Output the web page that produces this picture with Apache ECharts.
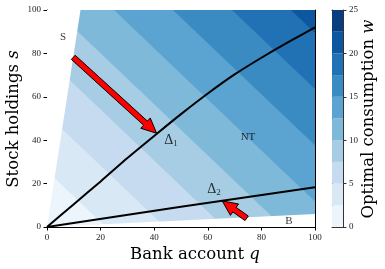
<!DOCTYPE html>
<html><head><meta charset="utf-8">
<script src="https://cdn.jsdelivr.net/npm/echarts@6/dist/echarts.min.js"></script>
<style>html,body{margin:0;padding:0;background:#fff}#c{width:385px;height:269px}</style>
</head><body><div id="c"></div>
<script>
// ---- data ----
const levels = [0, 2.5, 5, 7.5, 10, 12.5, 15, 17.5, 20, 22.5, 25];
const bandColors = ['#edf5fc','#d9e8f5','#c6dbef','#a6cde4','#7fb9da','#5ba3d0','#3b8bc3','#2171b5','#0d57a1','#083d7f'];
// contour lines (q, s) for w = 2.5 ... 20
const contour2_5  = [[-10,37.6],[10,14.1],[30.5,-10]];
const contour5    = [[-10,63.5],[22,25.9],[52.5,-10]];
const contour7_5  = [[-10,89.4],[33,38.8],[74.5,-10]];
const contour10   = [[-10,115.3],[44,51.8],[96.5,-10]];
const contour12_5 = [[16.5,110],[60,58.8],[110,0]];
const contour15   = [[38.5,110],[70,72.9],[110,25.9]];
const contour17_5 = [[60.5,110],[85,81.2],[110,51.8]];
const contour20   = [[82.5,110],[95,95.3],[110,77.6]];
const contours = [contour2_5, contour5, contour7_5, contour10, contour12_5, contour15, contour17_5, contour20];
// regions without data (white)
const sellEdge = [[0,0],[12.5,100]];
const buyEdge  = [[0,0],[100,6]];
// no-trade boundaries
const delta1 = [[0,0],[10,10.5],[20,21],[30,31.8],[41,43],[50,52],[60,61.5],[70,70.3],[80,78],[90,85.2],[100,92]];
const delta2 = [[0,0],[50,9.3],[100,18.3]];
// arrows: [qTail, sTail, qTip, sTip]
const arrows = [[9.8,78.2,40.9,43.2],[74.5,4,65.4,12]];
// region labels
const labelsData = [
  {q:6, s:87.6, t:'S'},
  {q:75, s:41.5, t:'NT'},
  {q:90.3, s:2.8, t:'B'},
  {q:46.3, s:40, t:'{d|Δ}{sub|1}'},
  {q:62.3, s:17.5, t:'{d|Δ}{sub|2}'}
];
const xTicks = [0,20,40,60,80,100];
const yTicks = [0,20,40,60,80,100];
const cbTicks = [0,5,10,15,20,25];

const FONT = 'DejaVu Serif';
const TFONT = 'Liberation Serif';
const chart = echarts.init(document.getElementById('c'), null, {renderer:'canvas'});

function farPolygon(c){ return c.concat([[200,-50],[200,200],[-50,200]]); }
const bandPolys = [[[-50,-50],[200,-50],[200,200],[-50,200]]].concat(contours.map(farPolygon));
const whitePolys = [
  [sellEdge[0], sellEdge[1], [sellEdge[1][0], 120], [-20,120], [-20,-20]],
  [buyEdge[0], buyEdge[1], [120, buyEdge[1][1]], [120,-20], [-20,-20]]
];

const axisLineStyle = {color:'#000', width:1};
const tickLabel = {fontSize:9, color:'#222', margin:6, fontFamily:TFONT};
const option = {
  animation:false,
  grid:[
    {left:47, top:10, width:268, height:217, outerBoundsMode:'none', containLabel:false},
    {left:332, top:10, width:11, height:217, outerBoundsMode:'none', containLabel:false}
  ],
  xAxis:[
    {gridIndex:0, type:'value', min:0, max:100, interval:20, position:'bottom',
     axisLine:{show:true, onZero:false, lineStyle:axisLineStyle},
     axisTick:{show:true, length:3.5, lineStyle:{color:'#000'}},
     axisLabel:tickLabel, splitLine:{show:false}},
    {gridIndex:0, type:'value', min:0, max:100, position:'top',
     axisLine:{show:true, onZero:false, lineStyle:axisLineStyle},
     axisTick:{show:false}, axisLabel:{show:false}, splitLine:{show:false}},
    {gridIndex:1, type:'value', min:0, max:1, position:'bottom',
     axisLine:{show:true, onZero:false, lineStyle:{color:'#333', width:1}},
     axisTick:{show:false}, axisLabel:{show:false}, splitLine:{show:false}},
    {gridIndex:1, type:'value', min:0, max:1, position:'top',
     axisLine:{show:true, onZero:false, lineStyle:{color:'#333', width:1}},
     axisTick:{show:false}, axisLabel:{show:false}, splitLine:{show:false}}
  ],
  yAxis:[
    {gridIndex:0, type:'value', min:0, max:100, interval:20, position:'left',
     axisLine:{show:true, onZero:false, lineStyle:axisLineStyle},
     axisTick:{show:true, length:3.5, lineStyle:{color:'#000'}},
     axisLabel:tickLabel, splitLine:{show:false}},
    {gridIndex:0, type:'value', min:0, max:100, position:'right',
     axisLine:{show:true, onZero:false, lineStyle:axisLineStyle},
     axisTick:{show:false}, axisLabel:{show:false}, splitLine:{show:false}},
    {gridIndex:1, type:'value', min:0, max:25, position:'left',
     axisLine:{show:true, onZero:false, lineStyle:{color:'#333', width:1}},
     axisTick:{show:false}, axisLabel:{show:false}, splitLine:{show:false}},
    {gridIndex:1, type:'value', min:0, max:25, interval:5, position:'right',
     axisLine:{show:true, onZero:false, lineStyle:{color:'#333', width:1}},
     axisTick:{show:true, length:3.5, lineStyle:{color:'#333'}},
     axisLabel:tickLabel, splitLine:{show:false}}
  ],
  series:[
    {type:'custom', xAxisIndex:0, yAxisIndex:0, clip:true, z:1,
     data: bandPolys.map((p,i)=>[i,0]),
     renderItem:function(params, api){
       const i = params.dataIndex;
       return {type:'polygon', shape:{points: bandPolys[i].map(p=>api.coord(p))},
               style:{fill: bandColors[i]}};
     }},
    {type:'custom', xAxisIndex:0, yAxisIndex:0, clip:true, z:2,
     data: whitePolys.map((p,i)=>[i,0]),
     renderItem:function(params, api){
       const i = params.dataIndex;
       return {type:'polygon', shape:{points: whitePolys[i].map(p=>api.coord(p))},
               style:{fill:'#ffffff'}};
     }},
    {type:'line', xAxisIndex:0, yAxisIndex:0, data:delta1, smooth:0.2, symbol:'none', z:3,
     lineStyle:{color:'#000', width:2}},
    {type:'line', xAxisIndex:0, yAxisIndex:0, data:delta2, symbol:'none', z:3,
     lineStyle:{color:'#000', width:2}},
    {type:'custom', xAxisIndex:0, yAxisIndex:0, z:4,
     data: arrows.map(a=>a),
     renderItem:function(params, api){
       const a = arrows[params.dataIndex];
       const p0 = api.coord([a[0],a[1]]), p1 = api.coord([a[2],a[3]]);
       const dx = p1[0]-p0[0], dy = p1[1]-p0[1], L = Math.hypot(dx,dy);
       const ux = dx/L, uy = dy/L, nx = -uy, ny = ux;
       const sw = 2.8, hw = 7, hl = 15;
       const hx = p1[0]-ux*hl, hy = p1[1]-uy*hl;
       const pts = [
         [p0[0]+nx*sw, p0[1]+ny*sw], [hx+nx*sw, hy+ny*sw], [hx+nx*hw, hy+ny*hw],
         [p1[0], p1[1]], [hx-nx*hw, hy-ny*hw], [hx-nx*sw, hy-ny*sw], [p0[0]-nx*sw, p0[1]-ny*sw]
       ];
       return {type:'polygon', shape:{points:pts}, style:{fill:'#ff0000', stroke:'#000', lineWidth:1}};
     }},
    {type:'scatter', xAxisIndex:0, yAxisIndex:0, z:5, symbolSize:0,
     data: labelsData.map(d=>({value:[d.q,d.s], t:d.t})),
     label:{show:true, position:'inside', color:'#000', fontFamily:TFONT, fontSize:11,
       formatter:function(p){ return p.data.t; },
       rich:{d:{fontFamily:TFONT, fontSize:14, color:'#000'}, sub:{fontFamily:TFONT, fontSize:9, color:'#000', verticalAlign:'bottom', padding:[7,0,0,0]}}}},
    {type:'custom', xAxisIndex:2, yAxisIndex:2, clip:true, z:1,
     data: bandColors.map((c,i)=>[0.5, levels[i]]),
     renderItem:function(params, api){
       const i = params.dataIndex;
       const a = api.coord([0, levels[i]]), b = api.coord([1, levels[i+1]]);
       return {type:'rect', shape:{x:a[0], y:b[1], width:b[0]-a[0], height:a[1]-b[1]},
               style:{fill: bandColors[i]}};
     }}
  ],
  graphic:[
    {type:'text', x:195, y:255, z:10,
     style:{text:'{n|Bank account }{i|q}', textAlign:'center', textVerticalAlign:'middle',
       rich:{n:{fontFamily:FONT, fontSize:16.5, fill:'#000'}, i:{fontFamily:FONT, fontSize:16.5, fontStyle:'italic', fill:'#000'}}}},
    {type:'text', x:14, y:119, rotation:Math.PI/2, z:10,
     style:{text:'{n|Stock holdings }{i|s}', textAlign:'center', textVerticalAlign:'middle',
       rich:{n:{fontFamily:FONT, fontSize:16.5, fill:'#000'}, i:{fontFamily:FONT, fontSize:16.5, fontStyle:'italic', fill:'#000'}}}},
    {type:'text', x:369, y:119, rotation:Math.PI/2, z:10,
     style:{text:'{n|Optimal consumption }{i|w}', textAlign:'center', textVerticalAlign:'middle',
       rich:{n:{fontFamily:FONT, fontSize:16.5, fill:'#000'}, i:{fontFamily:FONT, fontSize:16.5, fontStyle:'italic', fill:'#000'}}}}
  ]
};
chart.setOption(option);
</script></body></html>
